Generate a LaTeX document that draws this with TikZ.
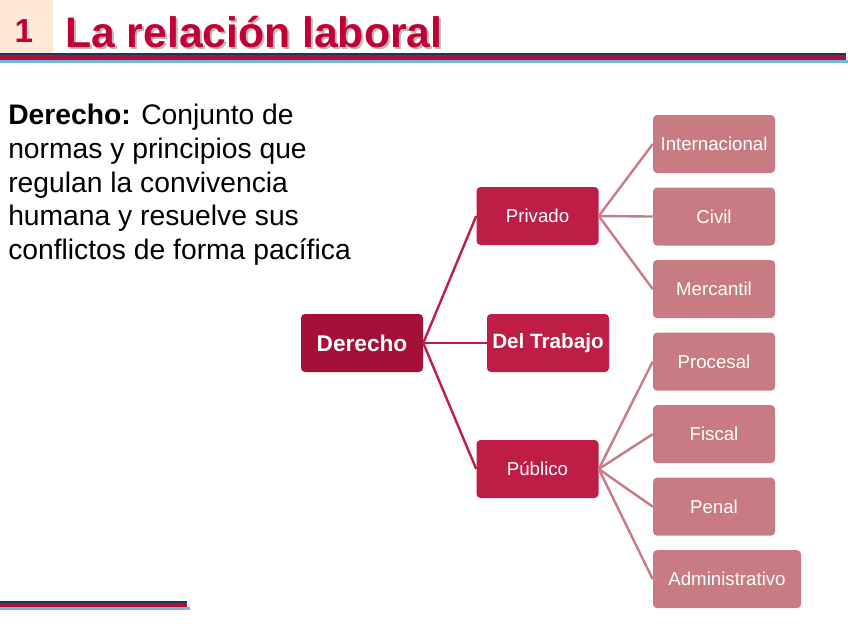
\documentclass[tikz,border=0pt]{standalone}
\usepackage{fontspec}
\setmainfont{Liberation Sans}
\usetikzlibrary{positioning}

\definecolor{peach}{RGB}{253,233,213}
\definecolor{titlered}{RGB}{192,0,55}
\definecolor{navyline}{RGB}{23,55,94}
\definecolor{stripered}{RGB}{176,16,58}
\definecolor{skyline}{RGB}{120,180,225}
\definecolor{rootred}{RGB}{165,16,55}
\definecolor{midred}{RGB}{190,30,69}
\definecolor{leafpink}{RGB}{201,123,132}

\begin{document}
\begin{tikzpicture}[
  x=0.75pt, y=-0.75pt,
  font=\fontsize{14}{16}\selectfont,
  box/.style={rounded corners=3pt, align=center, text=white, inner sep=2pt,
    minimum width=91.5pt, minimum height=43.5pt},
  rootbox/.style={box, fill=rootred, font=\fontsize{17}{20}\selectfont\bfseries},
  midbox/.style={box, fill=midred},
  leafbox/.style={box, fill=leafpink},
  link/.style={draw=midred, line width=1.8pt},
  leaflink/.style={draw=leafpink, line width=1.8pt},
  headfont/.style={font=\fontsize{32}{36}\selectfont\bfseries},
  node distance=10.5pt
]
\useasboundingbox (0,0) rectangle (848,636);

% header
\fill[peach] (0,0) rectangle (53,53);
\node[anchor=base, inner sep=0pt, text=titlered,
  font=\fontsize{25}{28}\selectfont\bfseries] (numero) at (24,42) {1};
\node[anchor=base west, inner sep=0pt, text=gray!55, headfont] (titulosombra) at (67,49) {La relación laboral};
\node[anchor=base west, inner sep=0pt, text=titlered, headfont] (titulo) at (65,47) {La relación laboral};
\fill[navyline] (0,52.5) rectangle (846,54.5);
\fill[stripered] (0,54.5) rectangle (846,60);
\fill[skyline] (0,60) rectangle (848,62.5);

% footer stripe
\fill[navyline] (0,601) rectangle (187,603);
\fill[stripered] (0,603) rectangle (187,607);
\fill[skyline] (0,607) rectangle (190,609.5);

% definition
\node[align=left, anchor=north west, inner sep=0pt,
  font=\fontsize{21.2}{25.3}\selectfont] (definicion) at (8,104)
  {\textbf{Derecho:} Conjunto de\\normas y principios que\\regulan la convivencia\\humana y resuelve sus\\conflictos de forma pacífica};

% tree
\node[rootbox] (derecho) at (362,343) {Derecho};
\node[midbox] (privado) at (537.5,216) {Privado};
\node[midbox, font=\fontsize{15.5}{18}\selectfont\bfseries] (trabajo) at (548,343) {Del Trabajo};
\node[midbox] (publico) at (537.5,469) {Público};

\node[leafbox] (internacional) at (714,144) {Internacional};
\node[leafbox, below=of internacional] (civil) {Civil};
\node[leafbox, below=of civil] (mercantil) {Mercantil};
\node[leafbox, below=of mercantil] (procesal) {Procesal};
\node[leafbox, below=of procesal] (fiscal) {Fiscal};
\node[leafbox, below=of fiscal] (penal) {Penal};
\node[leafbox, minimum width=111pt, below=of penal.south west, anchor=north west] (administrativo) {Administrativo};

\draw[link] (derecho.east) -- (privado.west);
\draw[link] (derecho.east) -- (trabajo.west);
\draw[link] (derecho.east) -- (publico.west);
\draw[leaflink] (privado.east) -- (internacional.west);
\draw[leaflink] (privado.east) -- (civil.west);
\draw[leaflink] (privado.east) -- (mercantil.west);
\draw[leaflink] (publico.east) -- (procesal.west);
\draw[leaflink] (publico.east) -- (fiscal.west);
\draw[leaflink] (publico.east) -- (penal.west);
\draw[leaflink] (publico.east) -- (administrativo.west);
\end{tikzpicture}
\end{document}
